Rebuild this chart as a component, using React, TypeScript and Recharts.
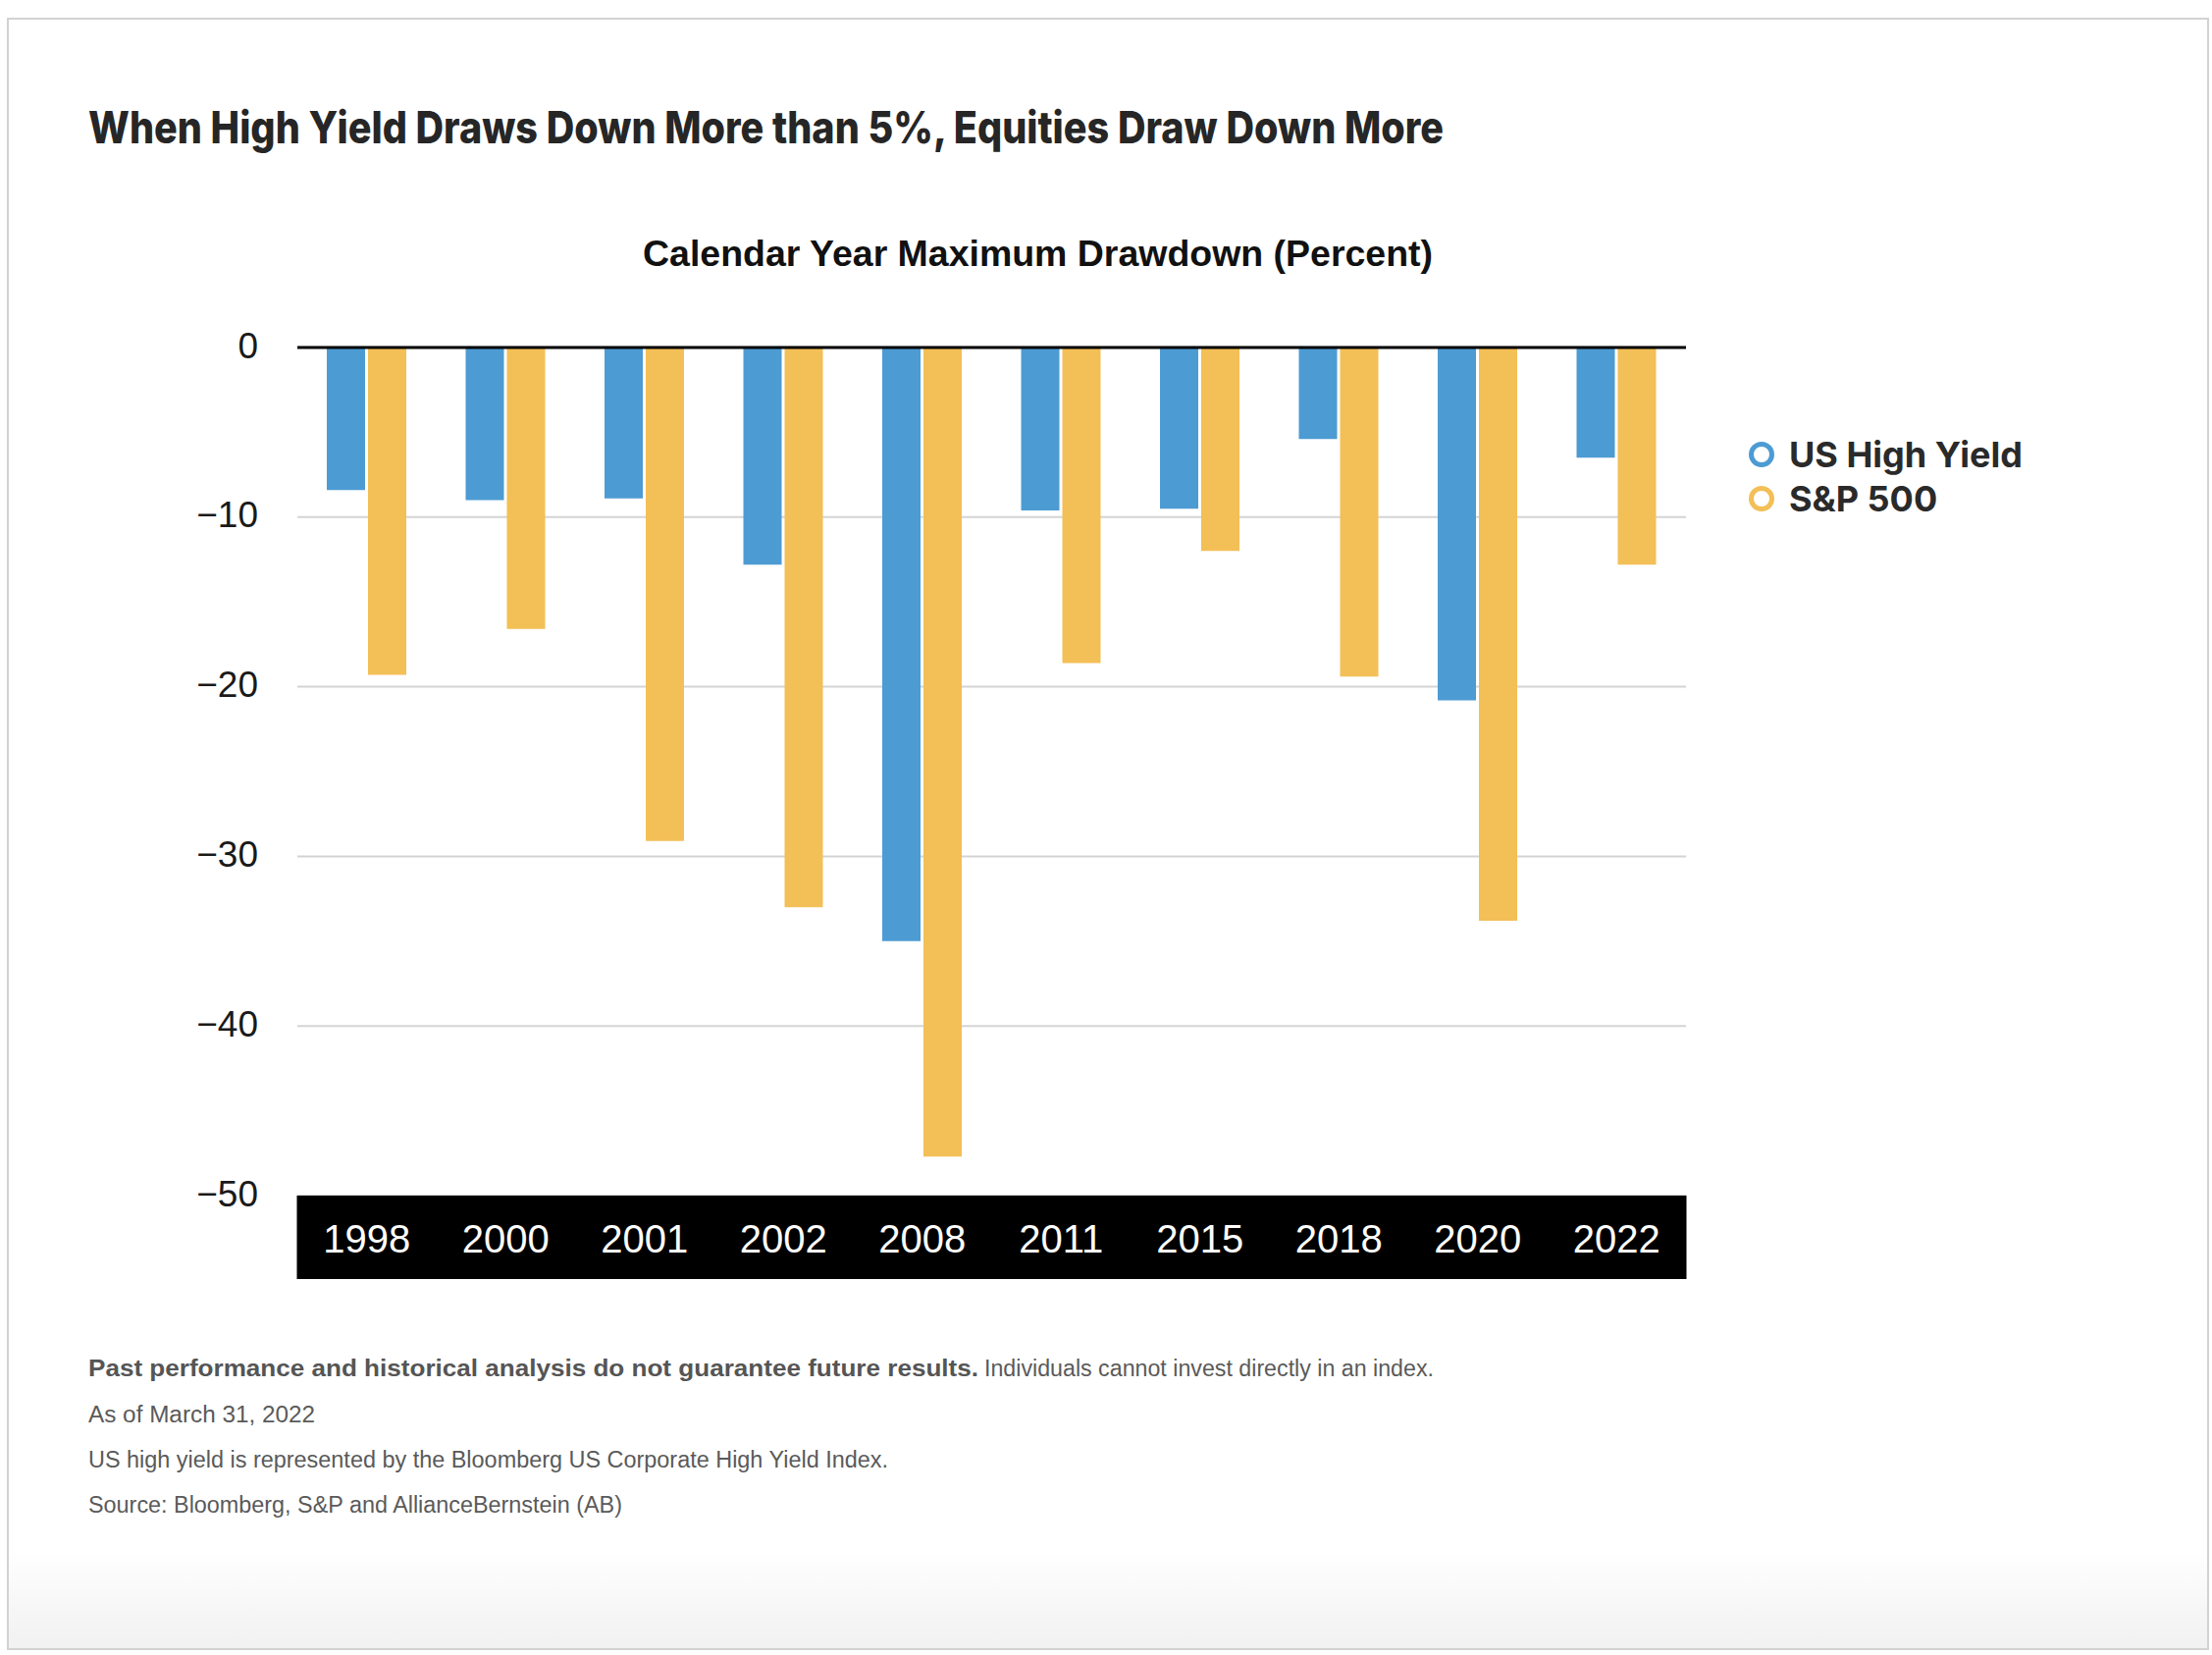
import React from "react";
import {
  Bar,
  BarChart,
  CartesianGrid,
  Legend,
  ReferenceLine,
  XAxis,
  YAxis,
} from "recharts";

const years = ["1998", "2000", "2001", "2002", "2008", "2011", "2015", "2018", "2020", "2022"];
const highYield = [-8.4, -9.0, -8.9, -12.8, -35.0, -9.6, -9.5, -5.4, -20.8, -6.5];
const sp500 = [-19.3, -16.6, -29.1, -33.0, -47.7, -18.6, -12.0, -19.4, -33.8, -12.8];
const yTicks = [0, -10, -20, -30, -40, -50];
const seriesNames = ["US High Yield", "S&P 500"];

const title = "When High Yield Draws Down More than 5%, Equities Draw Down More";
const subtitle = "Calendar Year Maximum Drawdown (Percent)";

const data = years.map((year, i) => ({
  year,
  highYield: highYield[i],
  sp500: sp500[i],
}));

const BLUE = "#4d9bd3";
const GOLD = "#f3bf57";
const SANS = "'Liberation Sans', Arial, Helvetica, sans-serif";

// black band under the plot, one cell per category
const YearTick = ({ x, y, payload, width }: any) => {
  const half = payload?.offset || width / years.length / 2;
  return (
    <g>
      <rect x={x - half - 0.5} y={y} width={half * 2 + 1} height={85} fill="#000" />
      <text
        x={x}
        y={y + 44}
        textAnchor="middle"
        dominantBaseline="central"
        fill="#fff"
        fontSize={40}
        fontFamily={SANS}
      >
        {payload.value}
      </text>
    </g>
  );
};

const YTick = ({ x, y, payload }: any) => (
  <text
    x={x}
    y={y - 2}
    textAnchor="end"
    dominantBaseline="central"
    fontSize={37}
    fill="#1a1a1a"
    fontFamily={SANS}
  >
    {payload.value === 0 ? "0" : `\u2212${Math.abs(payload.value)}`}
  </text>
);

const LegendContent = ({ payload }: any) => {
  // keep series order (recharts sorts legend items by name)
  const items = [...(payload || [])].sort(
    (a: any, b: any) => seriesNames.indexOf(a.value) - seriesNames.indexOf(b.value)
  );
  return (
    <div style={{ fontFamily: "Inter, sans-serif" }}>
      {items.map((entry: any) => (
        <div
          key={entry.value}
          style={{ display: "flex", alignItems: "center", height: 45 }}
        >
          <svg width={28} height={28} style={{ marginRight: 14 }}>
            <circle cx={14} cy={14} r={10.5} fill="none" stroke={entry.color} strokeWidth={5} />
          </svg>
          <span style={{ fontSize: 36, fontWeight: 700, color: "#2a2a2a" }}>{entry.value}</span>
        </div>
      ))}
    </div>
  );
};

export default function App() {
  return (
    <div style={{ position: "absolute", left: 0, top: 0, width: 2254, height: 1686, background: "#fff" }}>
      <div
        style={{
          position: "absolute",
          left: 7,
          top: 18,
          width: 2244,
          height: 1663,
          boxSizing: "border-box",
          border: "2px solid #d2d2d2",
          background: "linear-gradient(to bottom, #fff 94%, #f1f1f1 100%)",
        }}
      />
      <svg
        width={2254}
        height={1686}
        style={{ position: "absolute", left: 0, top: 0, pointerEvents: "none" }}
      >
        <text
          x={90}
          y={146}
          fontFamily="Inter, sans-serif"
          fontWeight={800}
          fontSize={45}
          fill="#262626"
          textLength={1381}
          lengthAdjust="spacingAndGlyphs"
        >
          {title}
        </text>
        <text
          x={655}
          y={271}
          fontFamily={SANS}
          fontWeight={700}
          fontSize={37}
          fill="#111"
          textLength={805}
          lengthAdjust="spacingAndGlyphs"
        >
          {subtitle}
        </text>
        <g fontFamily={SANS} fontSize={23} fill="#5a5a5a">
          <text x={90} y={1402} fontWeight={700} fill="#555" textLength={907} lengthAdjust="spacingAndGlyphs">
            Past performance and historical analysis do not guarantee future results.
          </text>
          <text x={1003} y={1402} textLength={458} lengthAdjust="spacingAndGlyphs">
            Individuals cannot invest directly in an index.
          </text>
          <text x={90} y={1449} textLength={231} lengthAdjust="spacingAndGlyphs">
            As of March 31, 2022
          </text>
          <text x={90} y={1495} textLength={815} lengthAdjust="spacingAndGlyphs">
            US high yield is represented by the Bloomberg US Corporate High Yield Index.
          </text>
          <text x={90} y={1541} textLength={544} lengthAdjust="spacingAndGlyphs">
            Source: Bloomberg, S&amp;P and AllianceBernstein (AB)
          </text>
        </g>
      </svg>
      <div style={{ position: "absolute", left: 0, top: 0 }}>
        <BarChart
          width={2254}
          height={1330}
          data={data}
          margin={{ top: 354, right: 536, bottom: 26, left: 203 }}
          barGap={3}
          barSize={39}
        >
          <CartesianGrid vertical={false} stroke="#d4d4d4" strokeWidth={2} />
          <XAxis
            dataKey="year"
            height={86}
            axisLine={false}
            tickLine={false}
            tickSize={0}
            tickMargin={0}
            interval={0}
            tick={<YearTick />}
          />
          <YAxis
            domain={[-50, 0]}
            ticks={yTicks}
            width={100}
            axisLine={false}
            tickLine={false}
            tickSize={0}
            tickMargin={40}
            tick={<YTick />}
          />
          <Bar dataKey="highYield" name={seriesNames[0]} fill={BLUE} isAnimationActive={false} />
          <Bar dataKey="sp500" name={seriesNames[1]} fill={GOLD} isAnimationActive={false} />
          <ReferenceLine y={0} stroke="#000" strokeWidth={3} />
          <Legend
            layout="vertical"
            align="center"
            verticalAlign="middle"
            wrapperStyle={{ left: 1781, top: 440, width: 420, height: 100 }}
            content={<LegendContent />}
          />
        </BarChart>
      </div>
    </div>
  );
}
